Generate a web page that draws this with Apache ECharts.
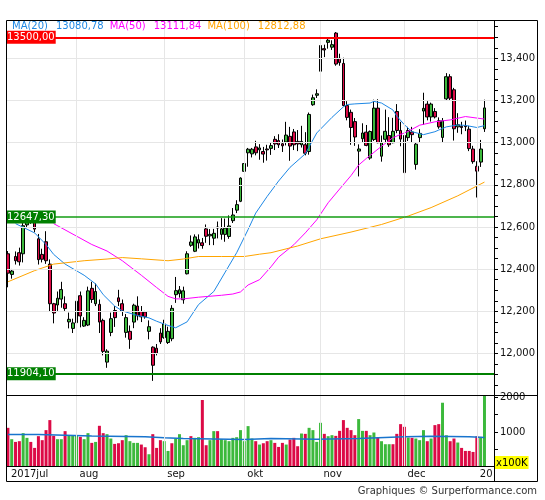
<!DOCTYPE html>
<html><head><meta charset="utf-8">
<script src="https://cdn.jsdelivr.net/npm/echarts@6/dist/echarts.min.js"></script>
<style>html,body{margin:0;padding:0;background:#fff}#c{width:545px;height:500px}</style>
</head><body><div id="c"></div>
<script>
// ---------- DATA ----------
const opens = [12473,12375,12460,12478,12473,12610,12645,12630,12544,12470,
12530,12424,12236,12230,12258,12236,12150,12119,12146,12274,
12130,12135,12309,12236,12233,12157,11959,12100,12204,12264,
12236,12100,12105,12149,12225,12199,12197,12105,12030,12025,
12097,12075,12052,12070,12279,12284,12255,12378,12513,12485,
12524,12525,12591,12558,12547,12600,12565,12565,12555,12630,
12680,12722,12864,12952,12947,12980,12966,12958,12970,12973,
13016,13010,12995,13003,13030,13051,13006,12990,12990,12958,
13180,13225,13339,13446,13476,13453,13520,13400,13376,13176,
13144,13100,12960,13019,13050,12927,13015,13164,12936,13016,
13034,13000,13148,13058,13034,13024,13051,12897,13024,13150,
13183,13122,13148,13104,13025,13208,13313,13251,13075,13078,
13080,13064,12970,12888,12908,13066];
const closes = [12381,12391,12440,12435,12606,12641,12632,12590,12445,12447,
12440,12236,12192,12262,12303,12213,12162,12145,12248,12178,
12157,12297,12256,12294,12149,12010,12011,12165,12170,12246,
12202,12170,12067,12229,12178,12174,12174,12127,11944,12000,
12055,12140,12105,12214,12298,12302,12297,12473,12529,12553,
12540,12512,12556,12565,12570,12595,12591,12595,12605,12657,
12706,12832,12901,12969,12969,12952,12975,12946,12966,12986,
12994,12990,12985,13036,12984,12990,12994,13006,12950,13134,
13213,13232,13461,13440,13486,13465,13373,13380,13176,13120,
13072,13027,12970,13046,12987,13053,13164,13000,13000,13054,
12990,13054,13058,13017,12858,13058,13038,12993,13044,13163,
13122,13183,13122,13075,13104,13313,13211,13066,13085,13072,
13076,12972,12910,12865,12970,13165];
const highs = [12486,12401,12484,12502,12619,12662,12660,12645,12567,12497,
12580,12446,12240,12294,12340,12271,12194,12165,12271,12294,
12172,12317,12340,12332,12256,12165,12020,12194,12225,12302,
12256,12187,12133,12236,12271,12225,12202,12157,12034,12045,
12120,12160,12127,12229,12363,12320,12317,12485,12560,12565,
12565,12548,12612,12590,12591,12626,12642,12640,12655,12690,
12727,12836,12920,12975,12975,13009,12993,12980,12990,13000,
13031,13040,13015,13099,13075,13065,13060,13080,13050,13143,
13228,13253,13476,13465,13498,13486,13525,13422,13403,13197,
13157,13117,12992,13092,13084,13058,13204,13206,13034,13157,
13121,13118,13183,13099,13058,13075,13075,13000,13064,13237,
13197,13190,13164,13120,13117,13330,13325,13260,13140,13099,
13105,13080,12985,12912,13013,13204];
const lows = [12314,12355,12422,12417,12432,12600,12615,12575,12422,12432,
12425,12197,12143,12202,12217,12202,12119,12097,12097,12124,
12126,12130,12240,12225,12097,11991,11932,12082,12126,12225,
12178,12075,12022,12120,12157,12149,12165,12067,11870,11991,
12045,12070,12045,12058,12240,12265,12236,12375,12506,12481,
12498,12497,12525,12514,12514,12546,12540,12530,12544,12619,
12666,12718,12846,12886,12930,12940,12919,12905,12915,12942,
12965,12975,12956,12987,12914,12965,12960,12977,12940,12943,
13175,13212,13335,13406,13446,13440,13365,13365,13173,13106,
12990,12985,12840,13000,12983,12919,13008,12997,12910,13000,
12980,12997,13045,12983,12806,13008,13003,12872,13000,13084,
13106,13100,13115,13066,13000,13200,13200,13010,13047,13040,
13055,12960,12900,12740,12885,13051];

// volume (x100K) and bar colour (u = green, d = red)
const volumes = [1124,798,720,741,971,836,720,548,885,770,
1058,1346,893,798,798,1029,893,913,893,865,
798,971,692,720,1182,971,942,817,663,682,
770,913,741,692,692,644,567,366,942,548,
770,741,461,682,817,942,625,770,885,836,
855,1922,625,770,1029,1029,798,770,741,836,
855,1058,741,1173,817,741,644,682,741,770,
692,576,692,644,788,836,596,961,951,1124,
1058,721,1268,951,884,913,893,1037,1346,1124,
1058,913,1375,1037,1037,913,990,836,740,654,
654,654,951,1230,1153,846,836,817,770,1058,
740,817,1202,1230,1844,911,740,817,702,548,
461,461,432,884,865,2060];
const volDir = ('dudduudddd'+'ddduuduuud'+'uududduudd'+'duuuuddudd'+'duuduuuudu'+
 'udduuduuuu'+'uuuuududdu'+'dddudddudu'+'uuuduudddd'+'dduuduuduu'+
 'udddduduuu'+'dudduuddud'+'dddduu').split('');

// moving averages, read at sampled days: [day index], [value]
const ma20Idx = [2,7,10,12,15,20,23,25,28,30,34,37,39,42,44,47,50,54,57,60,63,65,68,71,74,78,81,85,88,89,91,95,96,98,101,102,104,106,109,112,113,115,118,120,123,125];
const ma20Val = [12616,12572,12517,12470,12424,12371,12330,12279,12225,12202,12180,12169,12153,12133,12122,12150,12232,12294,12386,12478,12588,12666,12745,12818,12883,12947,13046,13120,13170,13181,13184,13188,13196,13188,13155,13126,13085,13052,13038,13052,13060,13075,13084,13082,13072,13081];
const ma50Idx = [12,22,26,30,35,39,42,44,46,50,56,59,61,63,66,69,71,75,78,81,84,87,90,92,94,98,101,105,108,112,116,120,125];
const ma50Val = [12616,12517,12486,12440,12371,12313,12271,12259,12259,12267,12276,12282,12292,12325,12350,12411,12457,12516,12572,12634,12715,12780,12844,12894,12925,12983,13024,13054,13083,13099,13108,13124,13112];
const ma100Idx = [0,7,12,20,26,30,35,42,46,50,56,62,66,69,76,82,90,98,105,111,118,125];
const ma100Val = [12340,12393,12424,12440,12448,12455,12449,12440,12448,12460,12460,12460,12471,12478,12510,12544,12576,12612,12652,12692,12748,12813];
const volMaIdx = [0,8,22,36,41,46,62,69,81,92,104,111,121,125];
const volMaVal = [933,893,865,836,817,788,817,798,817,865,884,865,846,846];

// reference levels
const levels = [13500, 12647.3, 11904.1];
const levelLabels = ['13500,00','12647,30','11904,10'];
const levelColors = ['#ff0000','#139c13','#008000'];
const levelWidths = [2,1.5,2];
const levelBoxColors = ['#ff0000','#008000','#008000'];

// legend
const legendNames = ['MA(20)','MA(50)','MA(100)'];
const legendVals = ['13080,78','13111,84','12812,88'];

// axes
const priceLabels = [12000,12200,12400,12600,12800,13000,13200,13400];
const priceTicks = [];
for (let v = 11850; v <= 13550; v += 50) priceTicks.push(v);
const monthIdx = [0,18,41,62,82,104,123];
const monthLbl = ['2017jul','aug','sep','okt','nov','dec','20'];
const NSLOT = 128;
const cats = [];
for (let i = 0; i < NSLOT; i++) cats.push(String(i));

// ---------- STYLE ----------
const FONT = 'DejaVu Sans';
const UP = '#3cb93c', DOWN = '#dc0a46';
const C20 = '#1e88e5', C50 = '#ff00ff', C100 = '#ffa500';

const candles = opens.map((o, i) => [o, closes[i], lows[i], highs[i]]);
const pairs = (ix, vs) => ix.map((x, k) => [x, vs[k]]);

const chart = echarts.init(document.getElementById('c'));
const gridLine = {color:'#e6e6e6', width:1, type:'solid'};

chart.setOption({
  animation: false,
  backgroundColor: '#fff',
  title: {
    left: 12, top: 21, padding: 0,
    text: `{a|${legendNames[0]}}{av|${legendVals[0]}}{b|${legendNames[1]}}{bv|${legendVals[1]}}{c|${legendNames[2]}}{cv|${legendVals[2]}}`,
    textStyle: {
      fontFamily: FONT, fontSize: 10, fontWeight: 'normal',
      rich: {
        a: {color: C20, fontFamily: FONT, fontSize: 10, padding: [0,8,0,0]},
        av: {color: C20, fontFamily: FONT, fontSize: 10, padding: [0,6,0,0]},
        b: {color: C50, fontFamily: FONT, fontSize: 10, padding: [0,8,0,0]},
        bv: {color: C50, fontFamily: FONT, fontSize: 10, padding: [0,6,0,0]},
        c: {color: C100, fontFamily: FONT, fontSize: 10, padding: [0,8,0,0]},
        cv: {color: C100, fontFamily: FONT, fontSize: 10}
      }
    }
  },
  grid: [
    {left: 6, top: 20, width: 488, height: 375, show: false},
    {left: 6, top: 395, width: 488, height: 72, show: false}
  ],
  xAxis: [
    {type: 'category', gridIndex: 0, data: cats, boundaryGap: true,
     axisLine: {show: false}, axisTick: {show: false}, axisLabel: {show: false}, splitLine: {show: false}},
    {type: 'category', gridIndex: 1, data: cats, boundaryGap: true,
     axisLine: {show: false}, axisTick: {show: false}, splitLine: {show: false},
     axisLabel: {
       show: true,
       interval: (i) => monthIdx.indexOf(i) >= 0,
       formatter: (v, i) => { const k = monthIdx.indexOf(i); return k >= 0 ? monthLbl[k] : ''; },
       align: 'left', padding: [0,0,0,3], margin: 2,
       fontFamily: FONT, fontSize: 10, color: '#111'
     }}
  ],
  yAxis: [
    {type: 'value', gridIndex: 0, position: 'right', min: 11803, max: 13582,
     axisLine: {show: false}, splitLine: {show: false},
     axisTick: {show: true, length: 4, lineStyle: {color: '#000'}, customValues: priceTicks},
     axisLabel: {show: true, customValues: priceLabels, margin: 6, fontFamily: FONT, fontSize: 10, color: '#111'}},
    {type: 'value', gridIndex: 1, position: 'right', min: 0, max: 2066, interval: 500,
     axisLine: {show: false}, splitLine: {show: false},
     axisTick: {show: true, length: 4, lineStyle: {color: '#000'}},
     axisLabel: {show: true, margin: 6, fontFamily: FONT, fontSize: 10, color: '#111',
       formatter: (v) => (v === 1000 || v === 2000) ? String(v) : ''}}
  ],
  graphic: [
    {type: 'rect', silent: true, z: 100, shape: {x: 6.5, y: 20.5, width: 531, height: 461}, style: {fill: 'none', stroke: '#000', lineWidth: 1}},
    {type: 'line', silent: true, z: 100, shape: {x1: 6.5, y1: 395.5, x2: 537.5, y2: 395.5}, style: {stroke: '#000', lineWidth: 1}},
    {type: 'line', silent: true, z: 100, shape: {x1: 494.5, y1: 20.5, x2: 494.5, y2: 481.5}, style: {stroke: '#000', lineWidth: 1}},
    {type: 'line', silent: true, z: 100, shape: {x1: 6.5, y1: 466.5, x2: 494.5, y2: 466.5}, style: {stroke: '#000', lineWidth: 1}},
    {type: 'text', silent: true, z: 100, x: 495, y: 456,
     style: {text: 'x100K', fill: '#000', backgroundColor: '#ffff00', padding: [2,1,1,1], font: '10px "DejaVu Sans"'}},
    {type: 'text', silent: true, z: 100, x: 537, y: 491,
     style: {text: 'Graphiques © Surperformance.com', fill: '#333', align: 'right', verticalAlign: 'middle', font: '10px "DejaVu Sans"'}}
  ],
  series: [
    {type: 'line', xAxisIndex: 0, yAxisIndex: 0, data: [], z: 1, silent: true,
     markLine: {silent: true, symbol: ['none','none'], animation: false, label: {show: false}, lineStyle: gridLine,
       data: priceLabels.map(v => ({yAxis: v})).concat(monthIdx.slice(1).map(i => ({xAxis: cats[i]})))}},
    {type: 'line', xAxisIndex: 1, yAxisIndex: 1, data: [], z: 1, silent: true,
     markLine: {silent: true, symbol: ['none','none'], animation: false, label: {show: false}, lineStyle: gridLine,
       data: monthIdx.slice(1).map(i => ({xAxis: cats[i]}))}},
    {type: 'candlestick', xAxisIndex: 0, yAxisIndex: 0, data: candles, barWidth: 3.2, z: 3,
     itemStyle: {color: UP, color0: DOWN, borderColor: '#000', borderColor0: '#000', borderColorDoji: '#000', borderWidth: 1}},
    {type: 'line', xAxisIndex: 0, yAxisIndex: 0, data: pairs(ma20Idx, ma20Val), z: 4, silent: true,
     symbol: 'none', showSymbol: false, lineStyle: {color: C20, width: 1}},
    {type: 'line', xAxisIndex: 0, yAxisIndex: 0, data: pairs(ma50Idx, ma50Val), z: 4, silent: true,
     symbol: 'none', showSymbol: false, lineStyle: {color: C50, width: 1}},
    {type: 'line', xAxisIndex: 0, yAxisIndex: 0, data: pairs(ma100Idx, ma100Val), z: 4, silent: true,
     symbol: 'none', showSymbol: false, lineStyle: {color: C100, width: 1}},
    {type: 'line', xAxisIndex: 0, yAxisIndex: 0, data: [], z: 10, silent: true, color: '#139c13',
     markLine: {silent: true, symbol: ['none','none'], animation: false,
       label: {show: true, position: 'insideStartTop', distance: 0, align: 'left', verticalAlign: 'middle',
               color: '#fff', fontFamily: FONT, fontSize: 10, padding: [2,1,1,1]},
       data: levels.map((v, k) => ({
         yAxis: v,
         lineStyle: {color: levelColors[k], width: levelWidths[k], type: 'solid', opacity: 1},
         label: {formatter: levelLabels[k], backgroundColor: levelBoxColors[k]}
       }))}},
    {type: 'bar', xAxisIndex: 1, yAxisIndex: 1, barWidth: 3, z: 3,
     data: volumes.map((v, i) => ({value: v, itemStyle: {color: volDir[i] === 'u' ? UP : DOWN}}))},
    {type: 'line', xAxisIndex: 1, yAxisIndex: 1, step: 'end', data: pairs(volMaIdx, volMaVal), z: 4, silent: true,
     symbol: 'none', showSymbol: false, lineStyle: {color: '#1874cd', width: 1.5}}
  ]
});
</script></body></html>
